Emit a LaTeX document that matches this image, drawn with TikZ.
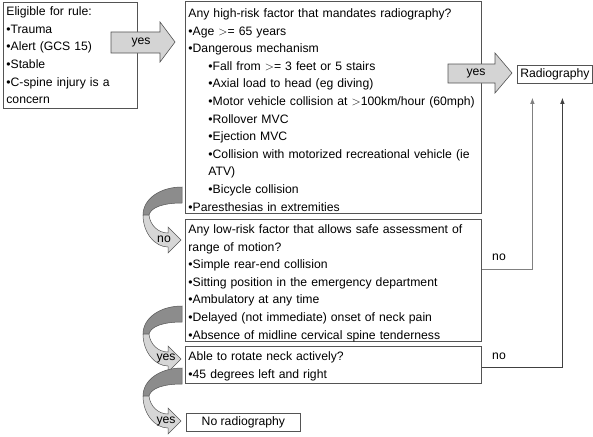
\documentclass[tikz,border=0pt]{standalone}
\usepackage{fontspec}
\setmainfont{Liberation Sans}
\usetikzlibrary{arrows.meta}
\definecolor{boxline}{gray}{0.33}
\definecolor{arrowfill}{gray}{0.83}
\definecolor{ribbondark}{gray}{0.55}
\definecolor{ribbonlight}{gray}{0.84}
\definecolor{linkgray}{gray}{0.5}
\definecolor{linkdark}{gray}{0.25}
\begin{document}
\begin{tikzpicture}[x=1pt,y=-1pt,
  txt/.style={font=\fontsize{12.2}{17.6}\selectfont},
  box/.style={txt, draw=boxline, line width=0.8pt, inner xsep=3pt, inner ysep=0pt,
    align=left, anchor=north west},
  smallbox/.style={txt, draw=boxline, line width=0.8pt, inner sep=0pt, anchor=north west},
  bigarrow/.style={fill=arrowfill, draw=boxline, line width=0.6pt},
  lbl/.style={txt, inner sep=0pt},
  link/.style={line width=0.8pt, -{Latex[length=6pt,width=4.5pt]}, shorten >=14pt},
  curvarrow/.pic={
    \filldraw[fill=ribbondark, draw=boxline, line width=0.5pt]
      (0,0) -- (0,16) .. controls (-18,16) and (-31,20) .. (-33,28)
      -- (-39,28) .. controls (-39,12) and (-22,0) .. (0,0) -- cycle;
    \filldraw[fill=ribbonlight, draw=boxline, line width=0.5pt]
      (-39,28) .. controls (-39,46) and (-27,60) .. (-14,60)
      -- (-14,66) -- (-1,53) -- (-14,40) -- (-14,46)
      .. controls (-24,46) and (-32,38) .. (-33,28) -- cycle;
  }]
\useasboundingbox (0,0) rectangle (593,436);

% boxes
\node[box, text width=128pt, minimum height=106pt] (elig) at (3,2)
  {Eligible for rule:\\ •Trauma\\ •Alert (GCS 15)\\ •Stable\\ •C-spine injury is a\\ concern};

\node[box, text width=290pt, minimum height=212pt] (high) at (185,1)
  {\rule{0pt}{14pt}Any high-risk factor that mandates radiography?\\
   •Age $>$= 65 years\\
   •Dangerous mechanism\\
   \hspace*{20pt}•Fall from $>$= 3 feet or 5 stairs\\
   \hspace*{20pt}•Axial load to head (eg diving)\\
   \hspace*{20pt}•Motor vehicle collision at $>$100km/hour (60mph)\\
   \hspace*{20pt}•Rollover MVC\\
   \hspace*{20pt}•Ejection MVC\\
   \hspace*{20pt}•Collision with motorized recreational vehicle (ie\\
   \hspace*{20pt}ATV)\\
   \hspace*{20pt}•Bicycle collision\\
   •Paresthesias in extremities};

\node[box, text width=290pt, minimum height=121pt] (low) at (185,219)
  {\rule{0pt}{14pt}Any low-risk factor that allows safe assessment of\\
   range of motion?\\
   •Simple rear-end collision\\
   •Sitting position in the emergency department\\
   •Ambulatory at any time\\
   •Delayed (not immediate) onset of neck pain\\
   •Absence of midline cervical spine tenderness};

\node[box, text width=290pt, minimum height=37pt] (able) at (185,346)
  {\rule{0pt}{12pt}Able to rotate neck actively?\\ •45 degrees left and right};

\node[smallbox, minimum width=114pt, minimum height=18pt] (norad) at (186,413) {No radiography};
\node[smallbox, minimum width=75pt, minimum height=18pt] (radio) at (517,65) {Radiography};

% big straight arrows
\filldraw[bigarrow] (111,32) -- (160,32) -- (160,22) -- (175,42) -- (160,62)
  -- (160,53) -- (111,53) -- cycle;
\node[lbl] (yes1) at (141,42) {yes};
\filldraw[bigarrow] (448,64) -- (495,64) -- (495,53) -- (512,73) -- (495,93)
  -- (495,83) -- (448,83) -- cycle;
\node[lbl] (yes2) at (476,73) {yes};

% curved arrows
\pic at (182,187) {curvarrow};
\pic at (182,306) {curvarrow};
\pic at (182,368) {curvarrow};
\node[lbl] (no1) at (164,239) {no};
\node[lbl] (yes3) at (166,358) {yes};
\node[lbl] (yes4) at (166,421) {yes};

% connectors to Radiography
\draw[link, draw=linkgray] ([yshift=11.5pt]low.east) -| ([xshift=-22.5pt]radio.south);
\draw[link, draw=linkdark] ([yshift=-2.5pt]able.east) -| ([xshift=7.5pt]radio.south);
\node[lbl] (no2) at (499,257) {no};
\node[lbl] (no3) at (499,356) {no};
\end{tikzpicture}
\end{document}
